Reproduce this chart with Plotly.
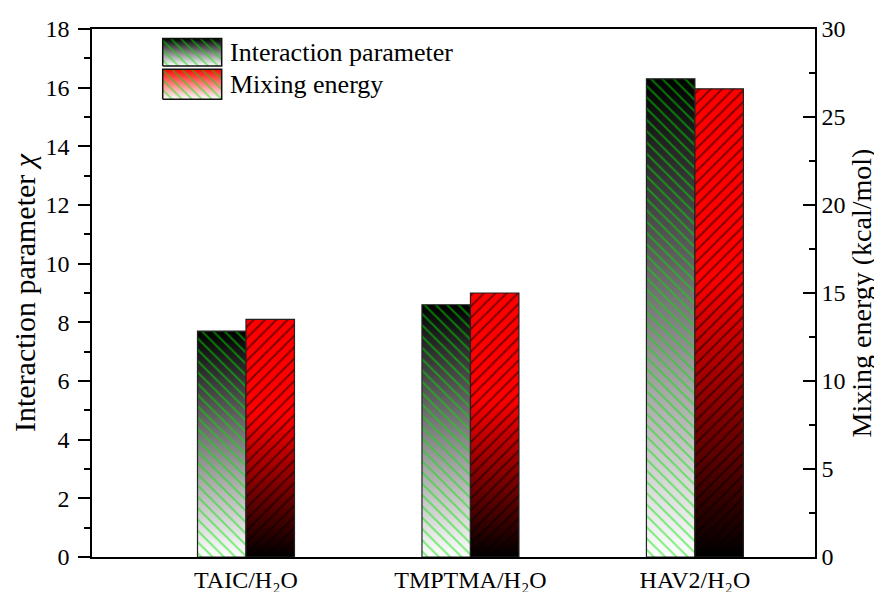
import plotly.graph_objects as go

# ---- data ----
categories = ["TAIC/H₂O", "TMPTMA/H₂O", "HAV2/H₂O"]
interaction_param = [7.7, 8.6, 16.3]      # left axis (chi)
mixing_energy = [13.5, 15.0, 26.6]        # right axis (kcal/mol)
series_names = ["Interaction parameter", "Mixing energy"]
left_ticks = [0, 2, 4, 6, 8, 10, 12, 14, 16, 18]
right_ticks = [0, 5, 10, 15, 20, 25, 30]

# ---- layout constants ----
FONT = "Liberation Serif"
BAR_W = 0.216
X_RANGE = [-0.686, 2.535]
GREEN_CS = [[0, "#ffffff"], [1, "#000000"]]
RED_CS = [[0, "#000000"], [0.6, "#ff0000"], [1, "#ff0000"]]

fig = go.Figure()


def bar_poly(i, v, side):
    x0 = i - BAR_W if side == "left" else i
    x1 = x0 + BAR_W
    return [x0, x1, x1, x0, x0], [0, 0, v, v, 0]


series = [
    dict(vals=interaction_param, side="left", cs=GREEN_CS, shape="\\", fg="#00e600", yaxis="y"),
    dict(vals=mixing_energy, side="right", cs=RED_CS, shape="/", fg="#000000", yaxis="y2"),
]

for s in series:
    # gradient fill, one trace per bar
    for i, v in enumerate(s["vals"]):
        xs, ys = bar_poly(i, v, s["side"])
        fig.add_trace(go.Scatter(
            x=xs, y=ys, mode="lines", fill="toself", line=dict(width=0),
            fillgradient=dict(type="vertical", colorscale=s["cs"], start=0, stop=v),
            yaxis=s["yaxis"], hoverinfo="skip", showlegend=False))
    # hatch + outline, all bars of the series
    X, Y = [], []
    for i, v in enumerate(s["vals"]):
        xs, ys = bar_poly(i, v, s["side"])
        X += xs + [None]
        Y += ys + [None]
    fig.add_trace(go.Scatter(
        x=X, y=Y, mode="lines", fill="toself", fillcolor="rgba(0,0,0,0)",
        fillpattern=dict(shape=s["shape"], fgcolor=s["fg"], bgcolor="rgba(0,0,0,0)",
                         size=8, solidity=0.25),
        line=dict(color="#222222", width=1.2),
        yaxis=s["yaxis"], hoverinfo="skip", showlegend=False))

# ---- custom legend (overlay axes in [0,1]) ----
LEG_X = [0.0978, 0.1794]
LEG_Y = [[0.930, 0.982], [0.867, 0.924]]
LEG_CS = [GREEN_CS, [[0, "#ffffff"], [1, "#ff0000"]]]
for k, name in enumerate(series_names):
    y0, y1 = LEG_Y[k]
    xs = [LEG_X[0], LEG_X[1], LEG_X[1], LEG_X[0], LEG_X[0]]
    ys = [y0, y0, y1, y1, y0]
    fig.add_trace(go.Scatter(
        x=xs, y=ys, mode="lines", fill="toself", line=dict(width=0),
        fillgradient=dict(type="vertical", colorscale=LEG_CS[k], start=y0, stop=y1),
        xaxis="x3", yaxis="y3", hoverinfo="skip", showlegend=False))
    fig.add_trace(go.Scatter(
        x=xs, y=ys, mode="lines", fill="toself", fillcolor="rgba(0,0,0,0)",
        fillpattern=dict(shape="\\", fgcolor="#00e600", bgcolor="rgba(0,0,0,0)",
                         size=7, solidity=0.25),
        line=dict(color="#111111", width=1.5),
        xaxis="x3", yaxis="y3", hoverinfo="skip", showlegend=False))
    fig.add_annotation(x=0.188, y=(y0 + y1) / 2, xref="paper", yref="paper",
                       text=name, showarrow=False, xanchor="left", yanchor="middle",
                       font=dict(family=FONT, size=26, color="black"))

axis_common = dict(showgrid=False, zeroline=False, showline=True, linecolor="black",
                   linewidth=1.5, tickcolor="black", tickwidth=1.5, automargin=False,
                   tickfont=dict(family=FONT, size=24, color="black"))

# the page body adds an 8px offset, so the figure is 8px smaller than the window
fig.update_layout(
    width=874, height=584,
    margin=dict(l=84, r=67, t=21, b=35),
    paper_bgcolor="white", plot_bgcolor="white",
    showlegend=False,
    font=dict(family=FONT, color="black"),
    xaxis=dict(range=X_RANGE, tickvals=[0, 1, 2], ticktext=categories, ticks="",
               mirror=True, **axis_common),
    yaxis=dict(range=[0, 18], tickvals=left_ticks, ticks="outside", ticklen=12,
               ticklabelstandoff=4,
               minor=dict(ticks="outside", ticklen=6, dtick=1, tickcolor="black", tickwidth=1.5),
               title=dict(text="Interaction parameter <i>χ</i>", standoff=4,
                          font=dict(family=FONT, size=30)),
               **axis_common),
    yaxis2=dict(range=[0, 30], tickvals=right_ticks, overlaying="y", side="right",
                ticks="inside", ticklen=12,
                minor=dict(ticks="inside", ticklen=6, dtick=2.5, tickcolor="black", tickwidth=1.5),
                title=dict(text="Mixing energy (kcal/mol)", standoff=5,
                           font=dict(family=FONT, size=28)),
                **axis_common),
    xaxis3=dict(range=[0, 1], overlaying="x", visible=False, anchor="y3"),
    yaxis3=dict(range=[0, 1], overlaying="y", visible=False, anchor="x3"),
)

fig.write_html("out.html")
